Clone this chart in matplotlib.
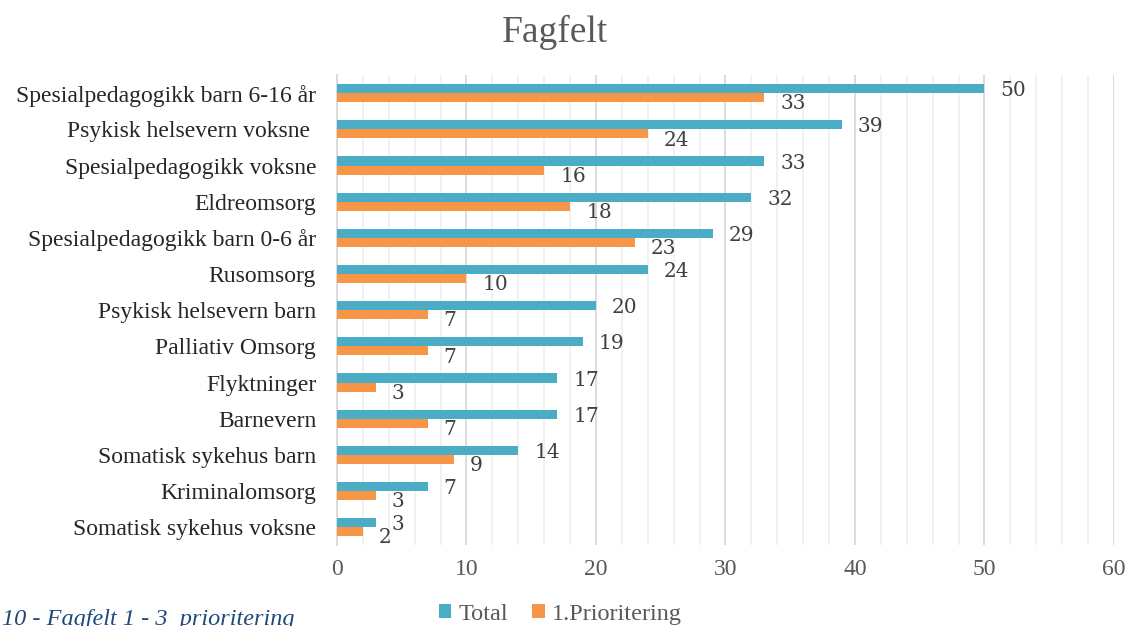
import numpy as np
import matplotlib.pyplot as plt
from matplotlib.ticker import MultipleLocator

# %% DATA
categories = ['Spesialpedagogikk barn 6-16 år', 'Psykisk helsevern voksne ', 'Spesialpedagogikk voksne',
              'Eldreomsorg', 'Spesialpedagogikk barn 0-6 år', 'Rusomsorg', 'Psykisk helsevern barn',
              'Palliativ Omsorg', 'Flyktninger', 'Barnevern', 'Somatisk sykehus barn', 'Kriminalomsorg',
              'Somatisk sykehus voksne']
total = [50, 39, 33, 32, 29, 24, 20, 19, 17, 17, 14, 7, 3]
first_priority = [33, 24, 16, 18, 23, 10, 7, 7, 3, 7, 9, 3, 2]

# %% PLOT
plt.rcParams['font.family'] = ['Liberation Serif', 'DejaVu Serif']

fig = plt.figure(figsize=(11.3, 6.26), dpi=100)
ax = fig.add_axes([0.2982, 0.129, 0.6876, 0.751])

y = np.arange(len(categories))
h = 0.25
blue = '#4BACC6'
orange = '#F79646'
ax.barh(y - h / 2, total, height=h, color=blue, label='Total', zorder=3)
ax.barh(y + h / 2, first_priority, height=h, color=orange, label='1.Prioritering', zorder=3)

# value labels, placed just right of each bar end
for yi, v in zip(y, total):
    ax.annotate(str(v), (v, yi - h / 2), xytext=(11.5, -1.5), textcoords='offset points',
                ha='left', va='center', fontsize=14.5, color='#404040', family='DejaVu Serif')
for yi, v in zip(y, first_priority):
    ax.annotate(str(v), (v, yi + h / 2), xytext=(11.5, -4.5), textcoords='offset points',
                ha='left', va='center', fontsize=14.5, color='#404040', family='DejaVu Serif')

ax.set_xlim(0, 60)
ax.set_ylim(len(categories) - 0.5, -0.5)
ax.set_yticks(y)
ax.set_yticklabels(categories, fontsize=17, color='#262626')
ax.xaxis.set_major_locator(MultipleLocator(10))
ax.xaxis.set_minor_locator(MultipleLocator(2))
ax.tick_params(axis='x', which='both', length=0, labelsize=17, labelcolor='#595959', pad=10)
ax.tick_params(axis='y', length=0, pad=15)
ax.grid(axis='x', which='major', color='#d9d9d9', linewidth=1.3, zorder=0)
ax.grid(axis='x', which='minor', color='#f0f0f0', linewidth=1.3, zorder=0)
for side in ['top', 'right', 'bottom']:
    ax.spines[side].set_visible(False)
ax.spines['left'].set_color('#d9d9d9')
ax.spines['left'].set_linewidth(1.3)

fig.text(0.491, 0.948, 'Fagfelt', ha='center', va='center', fontsize=27, color='#595959')

fig.legend(loc='center', bbox_to_anchor=(0.496, 0.019), ncol=2, frameon=False, fontsize=17.5,
           handlelength=0.5, handleheight=0.5, handletextpad=0.3, columnspacing=1.0,
           labelcolor='#595959')

fig.text(0.002, 1 - 619 / 626, '10 - Fagfelt 1 - 3  prioritering', ha='left', va='center',
         fontsize=17.5, style='italic', color='#1F497D')

plt.savefig('out.png', dpi=100)
